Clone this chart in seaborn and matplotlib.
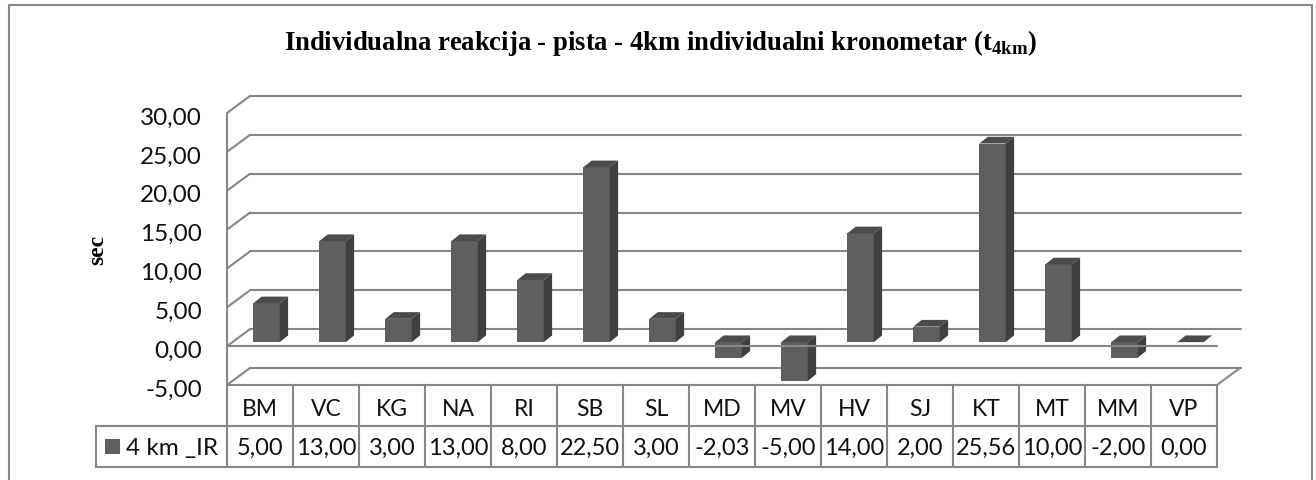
import matplotlib
matplotlib.use("Agg")
import matplotlib.pyplot as plt
import seaborn as sns
from matplotlib.lines import Line2D
from matplotlib.patches import Polygon, Rectangle
from matplotlib.transforms import ScaledTranslation

# data
categories = ["BM", "VC", "KG", "NA", "RI", "SB", "SL", "MD", "MV", "HV", "SJ", "KT", "MT", "MM", "VP"]
values = [5.00, 13.00, 3.00, 13.00, 8.00, 22.50, 3.00, -2.03, -5.00, 14.00, 2.00, 25.56, 10.00, -2.00, 0.00]
y_ticks = [-5, 0, 5, 10, 15, 20, 25, 30]
series_name = "4 km _IR"
title = r"Individualna reakcija - pista - 4km individualni kronometar (t$_{\mathbf{4km}}$)"
y_label = "sec"

W, H = 1316, 481
GRID = "#868686"
FRONT = "#5f5f5f"
TOP = "#4b4b4b"
SIDE = "#404040"
LW = 1.5


def comma(v):
    return f"{v:.2f}".replace(".", ",")


def px_axes(fig, left, right, top, bottom):
    # axes placed by pixel edges, y measured from the top of the image
    return fig.add_axes([left / W, 1 - bottom / H, (right - left) / W, (bottom - top) / H])


sns.set_theme(style="white")
plt.rcParams["font.family"] = ["Lato", "DejaVu Sans"]
plt.rcParams["mathtext.fontset"] = "custom"
plt.rcParams["mathtext.bf"] = "Liberation Serif:bold"
plt.rcParams["mathtext.rm"] = "Liberation Serif:bold"

fig = plt.figure(figsize=(W / 100, H / 100), dpi=100, facecolor="white")

# back wall: the gridlines, pushed back from the front plane
back = px_axes(fig, 250, 1241, 97, 369)
back.set_ylim(-5, 30)
back.set_yticks(y_ticks)
back.set_xticks([])
back.set_yticklabels([])
back.grid(axis="y", color=GRID, lw=LW)
for line in back.get_ygridlines():
    line.set_clip_on(False)
sns.despine(ax=back, left=True, bottom=True)
back.tick_params(length=0)
back.patch.set_alpha(0)

# bars sit between the back wall and the front plane
bars = px_axes(fig, 233.5, 1223.5, 110, 382)
sns.barplot(x=categories, y=values, order=categories, color=FRONT, saturation=1, width=0.4, ax=bars)
bars.set_xlim(-0.5, 14.5)
bars.set_ylim(-5, 30)
bars.axis("off")
dx = 8.4 / 66
dy = 6.7 / (272 / 35)
for p in list(bars.patches):
    p.set_linewidth(0)
    x0, x1 = p.get_x(), p.get_x() + p.get_width()
    y0 = min(p.get_y(), p.get_y() + p.get_height())
    y1 = max(p.get_y(), p.get_y() + p.get_height())
    bars.add_patch(Polygon([(x0, y1), (x1, y1), (x1 + dx, y1 + dy), (x0 + dx, y1 + dy)],
                           fc=TOP, lw=0, clip_on=False))
    bars.add_patch(Polygon([(x1, y0), (x1 + dx, y0 + dy), (x1 + dx, y1 + dy), (x1, y1)],
                           fc=SIDE, lw=0, clip_on=False))

# front plane: axis line, zero line, diagonals, table
ax = px_axes(fig, 227, 1217, 114, 386)
ax.patch.set_alpha(0)
ax.set_xlim(-0.5, 14.5)
ax.set_ylim(-5, 30)
ax.set_xticks([])
ax.set_yticks(y_ticks)
ax.set_yticklabels([comma(t) for t in y_ticks], fontsize=17.5, color="#111111", va="center")
ax.tick_params(axis="y", length=0, pad=18)
# labels sit a little under their tick in the original
down = ScaledTranslation(0, -4 / 100, fig.dpi_scale_trans)
for lab in ax.get_yticklabels():
    lab.set_transform(lab.get_transform() + down)
sns.despine(ax=ax, left=True, bottom=True)

unit = 272 / 35
wall_dx = 23 / 66
wall_dy = 17 / unit
ax.plot([-0.5, -0.5], [-5, 30], color=GRID, lw=LW, clip_on=False, solid_capstyle="butt")
ax.plot([-0.5, 14.5], [-5, -5], color=GRID, lw=LW, clip_on=False)
ax.plot([-0.5, 14.5], [0, 0], color=GRID, lw=LW, clip_on=False)
for t in y_ticks:
    ax.plot([-0.5, -0.5 + wall_dx], [t, t + wall_dy], color=GRID, lw=LW, clip_on=False)
ax.plot([14.5, 14.5 + wall_dx], [-5, -5 + wall_dy], color=GRID, lw=LW, clip_on=False)

# data table below the floor
row1 = -5 - 41 / unit
row2 = -5 - 82 / unit
label_x = -0.5 - 131 / 66
for i in range(len(categories) + 1):
    ax.plot([i - 0.5, i - 0.5], [-5, row2], color=GRID, lw=LW, clip_on=False)
ax.plot([label_x, label_x], [row1, row2], color=GRID, lw=LW, clip_on=False)
ax.plot([label_x, 14.5], [row1, row1], color=GRID, lw=LW, clip_on=False)
ax.plot([label_x, 14.5], [row2, row2], color=GRID, lw=LW, clip_on=False)
for i, (c, v) in enumerate(zip(categories, values)):
    ax.text(i, (-5 + row1) / 2 - 3 / unit, c, ha="center", va="center", fontsize=16.5, color="#111111")
    ax.text(i, (row1 + row2) / 2 - 1 / unit, comma(v), ha="center", va="center", fontsize=17, color="#111111")

fig.add_artist(Rectangle((105 / W, 1 - 455 / H), 15 / W, 15 / H, fc=FRONT, lw=0, transform=fig.transFigure))
fig.text(126 / W, 1 - 448 / H, series_name, ha="left", va="center", fontsize=17.5, color="#111111")

# chart frame, open at the bottom of the crop
frame = [(9, H), (9, 6), (1312, 6), (1312, H)]
fig.add_artist(Line2D([p[0] / W for p in frame], [1 - p[1] / H for p in frame], color=GRID, lw=LW))

fig.text(660 / W, 1 - 43 / H, title, ha="center", va="center", fontsize=19.2,
         fontweight="bold", family="Liberation Serif", color="black")
fig.text(98 / W, 1 - 250 / H, y_label, ha="center", va="center", rotation=90, fontsize=17,
         fontweight="bold", family="Liberation Serif", color="black")

fig.savefig("out.png", dpi=100)
plt.close(fig)
